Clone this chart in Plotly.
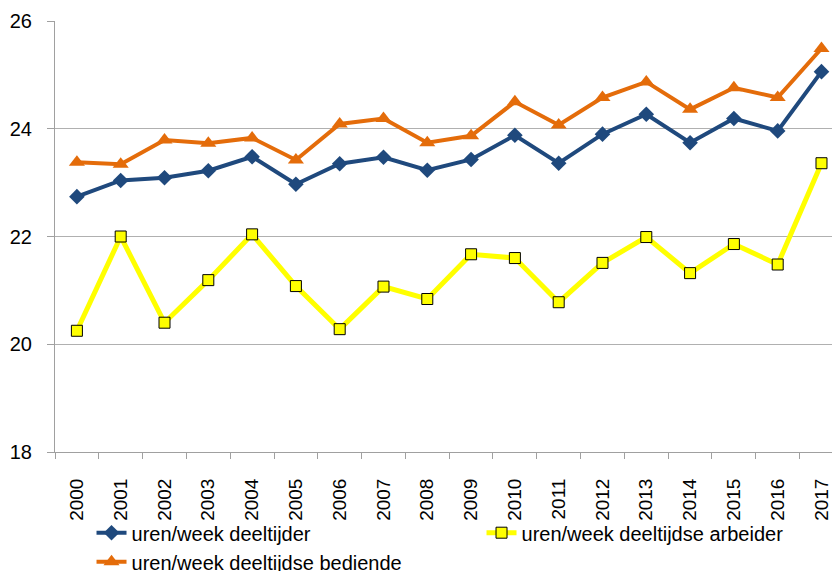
import plotly.graph_objects as go

years = [str(y) for y in range(2000, 2018)]
deeltijder = [22.74, 23.04, 23.09, 23.22, 23.48, 22.97, 23.35, 23.47, 23.23, 23.43,
              23.88, 23.36, 23.90, 24.27, 23.74, 24.19, 23.96, 25.06]
arbeider = [20.25, 22.00, 20.40, 21.19, 22.04, 21.08, 20.28, 21.07, 20.84, 21.67,
            21.60, 20.78, 21.51, 21.99, 21.32, 21.86, 21.48, 23.36]
bediende = [23.38, 23.34, 23.79, 23.73, 23.83, 23.42, 24.09, 24.19, 23.74, 23.87,
            24.50, 24.07, 24.58, 24.87, 24.36, 24.76, 24.58, 25.49]
y_ticks = [18, 20, 22, 24, 26]

FONT = "Liberation Sans, Arial, sans-serif"

fig = go.Figure()
fig.add_trace(go.Scatter(
    x=years, y=deeltijder, name="uren/week deeltijder", mode="lines+markers",
    line=dict(color="#1F497D", width=4),
    marker=dict(symbol="diamond", size=12, color="#1F497D")))
fig.add_trace(go.Scatter(
    x=years, y=arbeider, name="uren/week deeltijdse arbeider", mode="lines+markers",
    line=dict(color="#FFFF00", width=5),
    marker=dict(symbol="square", size=11, color="#FFFF00",
                line=dict(color="#000000", width=1))))
fig.add_trace(go.Scatter(
    x=years, y=bediende, name="uren/week deeltijdse bediende", mode="lines+markers",
    line=dict(color="#E46C0A", width=4),
    marker=dict(symbol="triangle-up", size=14, color="#E46C0A")))

fig.update_layout(
    width=832, height=571,
    margin=dict(l=55, r=0, t=21, b=119, autoexpand=False),
    paper_bgcolor="white", plot_bgcolor="white",
    font=dict(family=FONT, color="#000000"),
    showlegend=True,
    legend=dict(orientation="h", x=0.047, xanchor="left", y=-0.142, yanchor="top",
                font=dict(size=20, family=FONT), entrywidth=345, itemwidth=30,
                bgcolor="rgba(0,0,0,0)"),
    xaxis=dict(type="category", range=[-0.5, 17.24], showgrid=False,
               showline=True, linecolor="#A0A0A0", linewidth=1,
               ticks="outside", tickson="boundaries", ticklen=6, tickcolor="#A0A0A0",
               tickangle=-90, tickfont=dict(size=19, family=FONT),
               ticklabelstandoff=18),
    yaxis=dict(range=[18, 26], tickvals=y_ticks, showgrid=True, gridcolor="#B0B0B0",
               gridwidth=1, showline=True, linecolor="#A0A0A0", linewidth=1,
               ticks="outside", ticklen=7, tickcolor="#A0A0A0",
               tickfont=dict(size=20, family=FONT), ticklabelstandoff=11,
               zeroline=False),
)

fig.write_html("out.html", config={"displayModeBar": False},
               post_script="document.body.style.margin='0px';document.body.style.overflow='hidden';")
